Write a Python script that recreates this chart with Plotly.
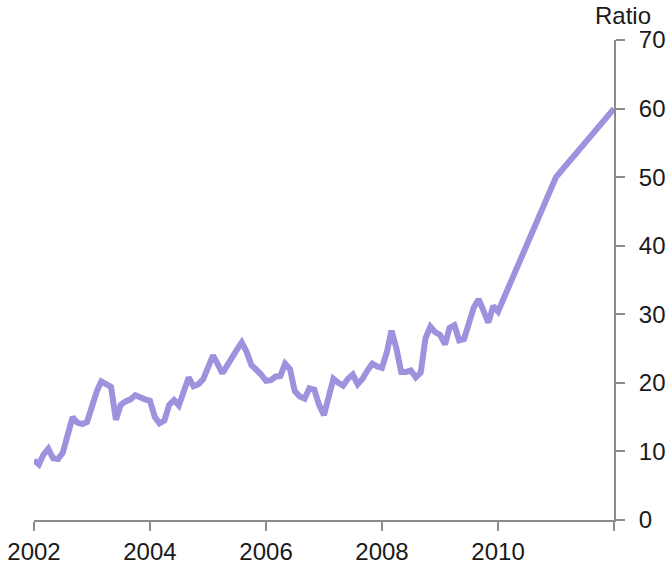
import pandas as pd
import plotly.graph_objects as go

# Monthly ratio, Jan 2002 .. Jan 2010
ratio_monthly = [
    8.7, 8.1, 9.5, 10.4, 9.0, 8.9, 9.8, 12.3, 15.0, 14.2, 14.0, 14.3,
    16.8, 18.8, 20.2, 19.9, 19.4, 14.6, 16.8, 17.3, 17.6, 18.2, 17.8, 17.6,
    17.4, 15.0, 14.1, 14.5, 16.8, 17.5, 16.7, 19.0, 20.8, 19.5, 19.8, 20.5,
    22.0, 24.0, 22.8, 21.4, 22.5, 23.8, 24.8, 25.9, 24.5, 22.6, 22.0, 21.2,
    20.3, 20.4, 20.9, 21.0, 22.8, 22.0, 18.8, 18.0, 17.7, 19.2, 19.0, 16.8,
    15.3, 18.0, 20.6, 20.0, 19.6, 20.6, 21.2, 19.8, 20.6, 21.8, 22.8, 22.4,
    22.2, 24.5, 27.6, 25.0, 21.6, 21.6, 21.8, 20.8, 21.5, 26.5, 28.2, 27.4,
    27.0, 25.6, 28.0, 28.4, 26.2, 26.4, 28.8, 31.0, 32.2, 30.5, 28.8, 31.2,
    30.4,
]
monthly_start = "2002-01-01"

# Later annual points
later_dates = ["2011-01-01", "2012-01-01"]
later_values = [50, 60]

tick_dates = ["2002-01-01", "2004-01-01", "2006-01-01", "2008-01-01", "2010-01-01", "2012-01-01"]
tick_labels = ["2002", "2004", "2006", "2008", "2010", ""]

dates = list(pd.date_range(monthly_start, periods=len(ratio_monthly), freq="MS"))
dates += list(pd.to_datetime(later_dates))
values = ratio_monthly + later_values

fig = go.Figure()
fig.add_trace(go.Scatter(
    x=dates, y=values, mode="lines",
    line=dict(color="#9f91dd", width=6),
    hoverinfo="skip", showlegend=False,
))

axis_col = "#8c8c8c"
font = dict(family="Liberation Sans, Arial, sans-serif", size=24, color="#1a1a1a")

fig.update_layout(
    width=668, height=566,
    margin=dict(l=34, r=54, t=40, b=46),
    plot_bgcolor="white", paper_bgcolor="white",
    font=font,
    xaxis=dict(
        type="date",
        range=["2002-01-01", "2012-01-01"],
        tickvals=tick_dates, ticktext=tick_labels,
        ticks="outside", ticklen=9, tickwidth=2, tickcolor=axis_col,
        showline=True, linecolor=axis_col, linewidth=2,
        showgrid=False, zeroline=False, automargin=False,
        tickfont=font,
    ),
    yaxis=dict(
        side="right",
        range=[0, 70], dtick=10,
        ticks="outside", ticklen=9, tickwidth=2, tickcolor=axis_col,
        ticklabelstandoff=9,
        showline=True, linecolor=axis_col, linewidth=2,
        showgrid=False, zeroline=False, automargin=False,
        tickfont=font,
    ),
    annotations=[dict(
        text="Ratio", xref="paper", yref="paper", x=1.0155, y=1,
        yshift=25, xanchor="center", yanchor="middle", showarrow=False,
        font=font,
    )],
)

fig.write_html(
    "out.html",
    config={"displayModeBar": False, "staticPlot": True},
    post_script="document.body.style.margin='0px';document.body.style.overflow='hidden';",
)
